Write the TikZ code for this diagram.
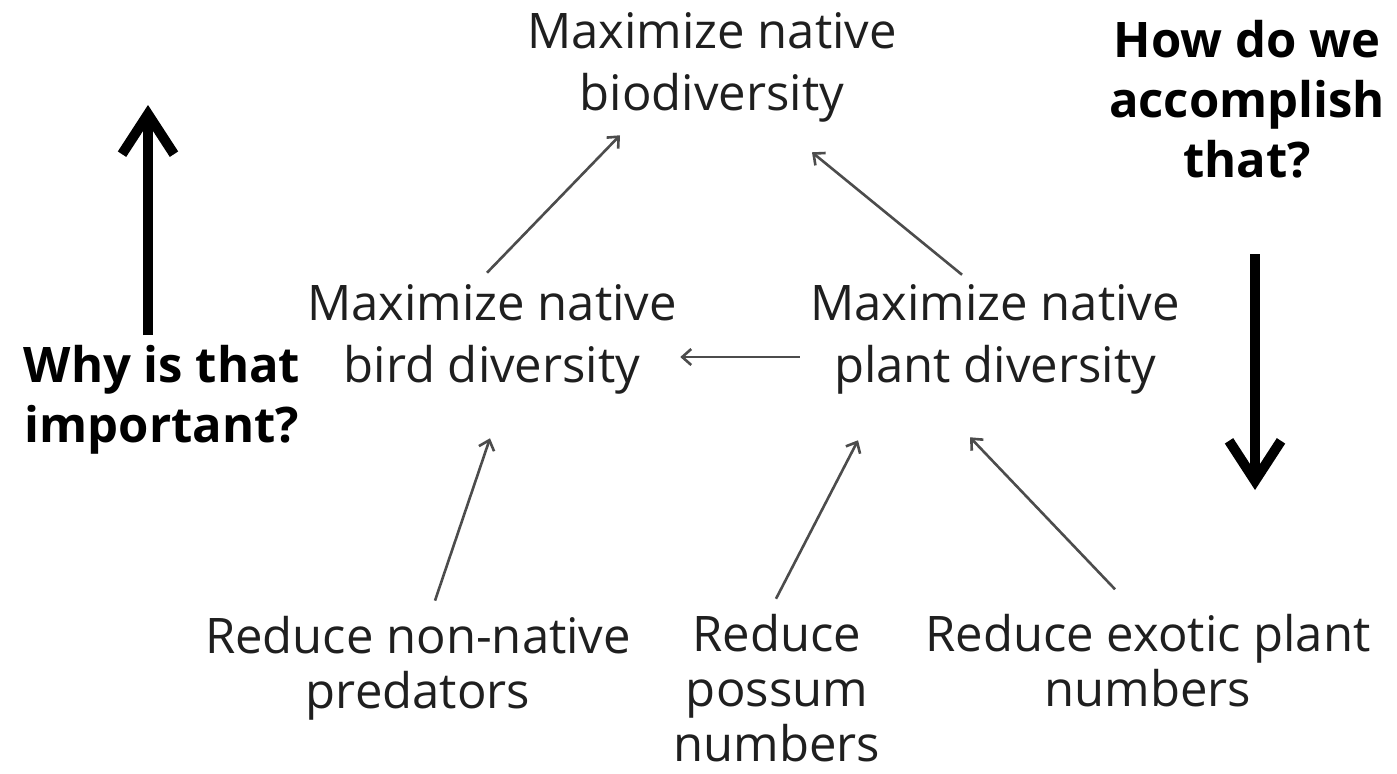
\documentclass[tikz,border=0pt]{standalone}
\usepackage{fontspec}
\setmainfont{Open Sans}
\usetikzlibrary{arrows.meta}
\begin{document}
\begin{tikzpicture}[x=0.5pt,y=-0.5pt,
  goal/.style={align=center, inner sep=0pt, text=black!88,
    font=\fontsize{24.5}{31}\selectfont},
  action/.style={goal, font=\fontsize{24.5}{27.5}\selectfont},
  question/.style={align=center, inner sep=0pt, text=black,
    font=\fontsize{24.5}{30}\selectfont\bfseries},
  link/.style={draw=black!70, line width=1.3pt,
    -{Straight Barb[length=4.5pt,width=8pt]}},
  bigarrow/.style={draw=black, line width=5pt,
    -{Straight Barb[length=20pt,width=26pt]}}]
\clip (0,0) rectangle (1397,773);
\fill[white] (0,0) rectangle (1397,773);

% objectives
\node[goal] (bio)   at (712,67)  {Maximize native\\biodiversity};
\node[goal] (bird)  at (492,339) {Maximize native\\bird diversity};
\node[goal] (plant) at (995,339) {Maximize native\\plant diversity};
\node[action] (pred)  at (418,668) {Reduce non-native\\predators};
\node[action] (poss)  at (777,688) {Reduce\\possum\\numbers};
\node[action] (exot)  at (1148,661) {Reduce exotic plant\\numbers};

% guiding questions
\node[question] (why) at (162,400) {Why is that\\important?};
\node[question] (how) at (1247,99) {How do we\\accomplish\\that?};

% means-ends links
\draw[link] ([shift={(-5,-11)}]bird.north) -- ([shift={(-92,13)}]bio.south);
\draw[link] ([shift={(-33,-9)}]plant.north) -- ([shift={(100,30)}]bio.south);
\draw[link] ([shift={(-10,18)}]plant.west) -- ([shift={(3,18)}]bird.east);
\draw[link] ([shift={(17,-15)}]pred.north) -- ([shift={(-2,44)}]bird.south);
\draw[link] ([shift={(-1,-15)}]poss.north) -- ([shift={(-137,46)}]plant.south);
\draw[link] ([shift={(-33,-25)}]exot.north) -- ([shift={(-25,43)}]plant.south);

% direction arrows
\coordinate (uptip) at (148,105);
\coordinate (downtip) at (1255,490);
\draw[bigarrow] ([shift={(-14,-10)}]why.north) -- (uptip);
\draw[bigarrow] ([shift={(8,76)}]how.south) -- (downtip);
\end{tikzpicture}
\end{document}
